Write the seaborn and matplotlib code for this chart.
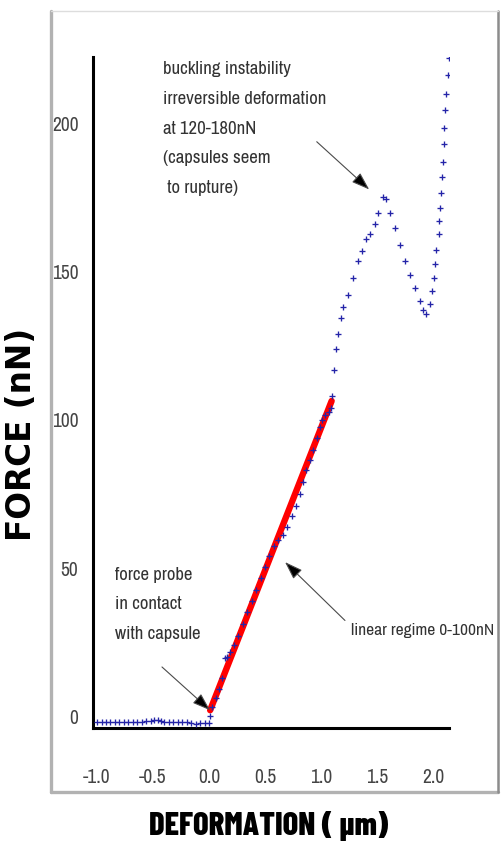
import matplotlib
matplotlib.use("Agg")
import matplotlib.pyplot as plt
import seaborn as sns
from matplotlib.lines import Line2D

defo = [-1.00, -0.96, -0.92, -0.88, -0.84, -0.80, -0.76, -0.72, -0.68, -0.64,
        -0.60, -0.56, -0.52, -0.49, -0.46, -0.43, -0.40, -0.36, -0.32, -0.28,
        -0.24, -0.20, -0.16, -0.12, -0.08, -0.04, 0.00,
        0.01, 0.03, 0.06, 0.09, 0.12, 0.14, 0.16, 0.19, 0.22, 0.26, 0.30,
        0.34, 0.38, 0.42, 0.46, 0.50, 0.54, 0.58, 0.62, 0.66, 0.70, 0.74,
        0.78, 0.81, 0.84, 0.87, 0.90, 0.93, 0.96, 0.99, 1.01, 1.04, 1.07,
        1.09, 1.10, 1.116, 1.134, 1.15, 1.175, 1.20, 1.244, 1.29, 1.333,
        1.363, 1.40, 1.44, 1.48, 1.51, 1.556, 1.58, 1.616, 1.66, 1.705,
        1.75, 1.795, 1.84, 1.884, 1.91, 1.94, 1.97, 1.99, 2.01, 2.02,
        2.03, 2.05, 2.054, 2.06, 2.07, 2.08, 2.087, 2.095, 2.10, 2.11,
        2.12, 2.13, 2.14]
force = [-2.0, -2.1, -1.9, -2.0, -2.0, -1.9, -2.0, -2.0, -1.9, -1.9,
         -1.9, -1.8, -1.6, -1.3, -1.4, -1.8, -1.9, -2.0, -2.0, -2.0,
         -2.0, -2.1, -2.2, -2.5, -2.4, -2.4, -2.2,
         0.0, 3.0, 6.0, 9.0, 13.0, 19.5, 20.0, 21.5, 24.0, 27.0, 31.0,
         35.0, 39.0, 42.5, 46.5, 50.5, 54.0, 57.5, 59.5, 61.0, 64.0, 67.5,
         71.0, 75.0, 79.0, 83.0, 86.5, 90.0, 94.0, 97.5, 100.0, 101.5, 102.5,
         104.0, 108.0, 117.0, 124.0, 129.0, 134.5, 138.0, 142.0, 148.0, 153.5,
         157.0, 161.0, 162.6, 166.0, 170.0, 175.4, 174.4, 170.0, 164.7, 159.0,
         153.5, 149.0, 144.5, 140.0, 137.0, 135.6, 139.0, 143.5, 148.0, 152.5,
         157.5, 162.6, 167.0, 171.5, 176.5, 182.0, 187.0, 193.0, 198.4, 204.7,
         210.0, 216.5, 222.0]

# linear fit over the 0-100 nN regime
fit_x = [0.01, 1.095]
fit_y = [2.0, 106.4]

x_ticks = [-1.0, -0.5, 0.0, 0.5, 1.0, 1.5, 2.0]
y_ticks = [0, 50, 100, 150, 200]

NARROW = ["Archivo Narrow", "Liberation Sans"]
HEAVY = ["Barlow Condensed", "DejaVu Sans"]

sns.set_style("white")
plt.rcParams["font.family"] = NARROW

fig = plt.figure(figsize=(5.01, 8.44), dpi=100)
ax = fig.add_axes([93 / 501, 116 / 844, 356 / 501, 671 / 844])

sns.lineplot(x=fit_x, y=fit_y, color="red", linewidth=4.6, ax=ax, zorder=2)
sns.scatterplot(x=defo, y=force, marker="+", s=13, color="#2424a8",
                linewidth=0.95, ax=ax, zorder=3)

ax.set_xlim(-1.036, 2.143)
ax.set_ylim(-4.0, 222.5)
ax.set_xticks(x_ticks)
ax.set_xticklabels([f"{v:.1f}" for v in x_ticks])
ax.set_yticks(y_ticks)

for s in ["top", "right"]:
    ax.spines[s].set_visible(False)
for s in ["left", "bottom"]:
    ax.spines[s].set_linewidth(2.2)
    ax.spines[s].set_color("black")

ax.tick_params(axis="y", direction="out", length=8.5, width=2, color="#222222",
               labelsize=14, labelcolor="#444444", pad=2)
ax.tick_params(axis="x", direction="out", length=16, width=2, color="#222222",
               labelsize=14, labelcolor="#444444", pad=13)

ax.set_ylabel("FORCE (nN)", family="DejaVu Sans", fontweight="bold",
              fontsize=23.5, color="black")
ax.yaxis.set_label_coords(-0.155, 0.437)
ax.set_xlabel("DEFORMATION ( µm)", family=HEAVY, fontweight=800,
              fontsize=23.5, color="black")
ax.xaxis.set_label_coords(0.494, -0.124)

# ── annotations ─────────────────────────────────────────────
arrow = dict(arrowstyle="-|>,head_length=1.1,head_width=0.38", fc="black",
             ec="#4a4a4a", lw=0.8, mutation_scale=10, shrinkA=0, shrinkB=0)
txt = dict(fontsize=13.5, color="#333333", linespacing=2.05, va="top", ha="left")

ax.text(-0.41, 221.0, "buckling instability\nirreversible deformation\n"
        "at 120-180nN\n(capsules seem\n to rupture)", **txt)
ax.annotate("", xy=(1.43, 177.8), xytext=(0.962, 193.9), arrowprops=arrow)

ax.text(-0.84, 50.5, "force probe\nin contact\nwith capsule", **txt)
ax.annotate("", xy=(0.009, 2.0), xytext=(-0.42, 16.6), arrowprops=arrow)

ax.text(1.27, 27.3, "linear regime 0-100nN", fontsize=12.5, color="#333333",
        va="baseline", ha="left")
ax.annotate("", xy=(0.679, 52.0), xytext=(1.214, 32.3), arrowprops=arrow)

# ── picture frame around the plot ───────────────────────────
W, H = 501, 844
def fline(x0, y0, x1, y1, **kw):
    fig.add_artist(Line2D([x0 / W, x1 / W], [1 - y0 / H, 1 - y1 / H],
                          transform=fig.transFigure, **kw))

fline(51, 11, 51, 792, color="#b2b2b2", lw=2.4)
fline(51, 792, 498, 792, color="#b2b2b2", lw=2.4)
fline(498, 11, 498, 792, color="#8c8c8c", lw=1.8)
fline(51, 11, 498, 11, color="#dddddd", lw=1.0)

fig.savefig("out.png", dpi=100, facecolor="white")
